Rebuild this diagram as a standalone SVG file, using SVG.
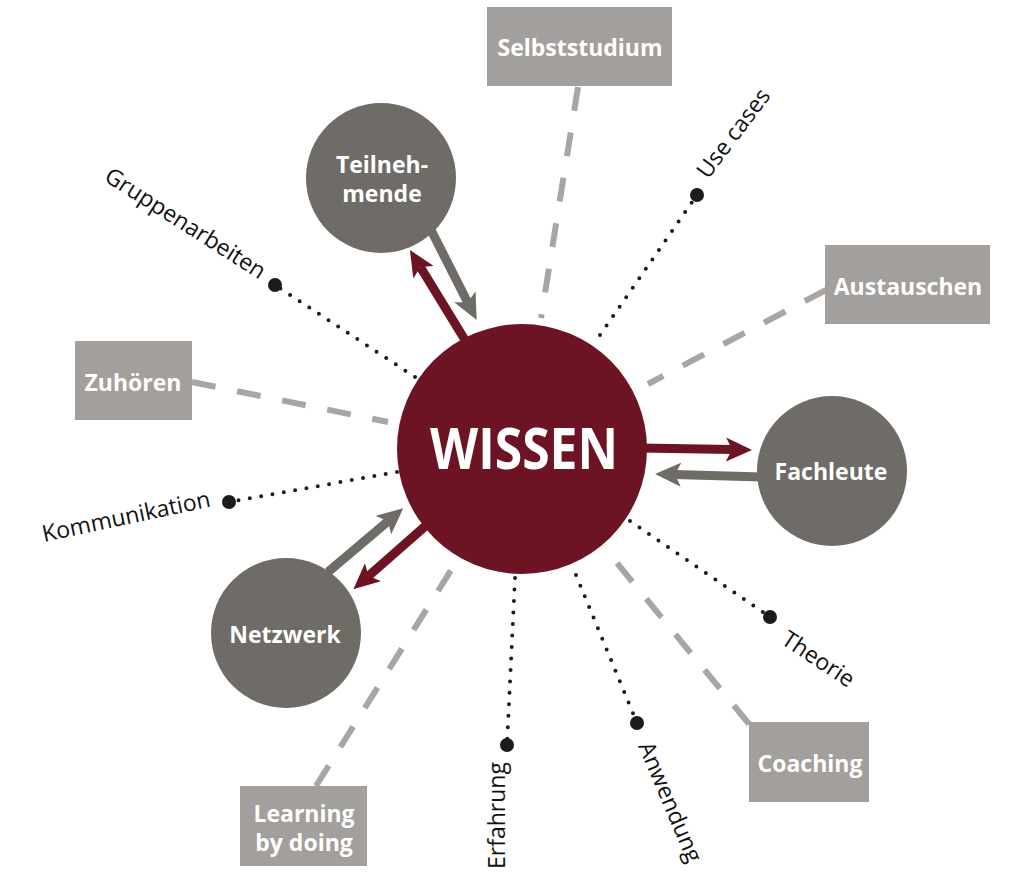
<svg xmlns="http://www.w3.org/2000/svg" width="1024" height="881" viewBox="0 0 1024 881">
<defs>
<style>
.dash{fill:none;stroke:#a9a5a2;stroke-width:6;stroke-dasharray:24 22}
.dot{fill:none;stroke:#1c1c20;stroke-width:4;stroke-dasharray:0 11.5;stroke-linecap:round}
.end{fill:#1c1c20}
.lbl{font-family:"Open Sans","Noto Sans",sans-serif;font-size:23px;fill:#111}
.box{fill:#a39f9c}
.btxt{font-family:"Open Sans","Noto Sans",sans-serif;font-size:23px;font-weight:bold;fill:#fff;text-anchor:middle}
.node{fill:#6f6c67}
.am{stroke:#6c1424;stroke-width:9;fill:none}
.ag{stroke:#6f6c67;stroke-width:9;fill:none}
</style>
<marker id="hm" viewBox="0 0 26 24" refX="6" refY="12" markerWidth="26" markerHeight="24" markerUnits="userSpaceOnUse" orient="auto"><path d="M0,0 L26,12 L0,24 L6,12 z" fill="#6c1424"/></marker>
<marker id="hg" viewBox="0 0 26 24" refX="6" refY="12" markerWidth="26" markerHeight="24" markerUnits="userSpaceOnUse" orient="auto"><path d="M0,0 L26,12 L0,24 L6,12 z" fill="#6f6c67"/></marker>
</defs>
<rect width="1024" height="881" fill="#fff"/>
<g id="connectors">
<line class="dash" x1="578" y1="87" x2="541" y2="318"/>
<line class="dash" x1="826" y1="290" x2="648" y2="384"/>
<line class="dash" x1="192" y1="382" x2="388" y2="422"/>
<line class="dash" x1="749" y1="724" x2="603" y2="546"/>
<line class="dash" x1="316" y1="786" x2="453" y2="567"/>
<line class="dot" x1="600" y1="335" x2="697" y2="195"/>
<line class="dot" x1="415" y1="377" x2="275" y2="285"/>
<line class="dot" x1="397" y1="472" x2="229" y2="502"/>
<line class="dot" x1="630" y1="521" x2="770" y2="617"/>
<line class="dot" x1="515" y1="578" x2="507" y2="745"/>
<line class="dot" x1="576" y1="575" x2="637" y2="723"/>
<circle class="end" cx="697" cy="195" r="7"/>
<circle class="end" cx="275" cy="285" r="7"/>
<circle class="end" cx="229" cy="502" r="7"/>
<circle class="end" cx="770" cy="617" r="7"/>
<circle class="end" cx="507" cy="745" r="7"/>
<circle class="end" cx="637" cy="723" r="7"/>
<line class="am" x1="465" y1="340" x2="420.4" y2="267.1" marker-end="url(#hm)"/>
<line class="ag" x1="430" y1="228" x2="467.6" y2="302.2" marker-end="url(#hg)"/>
<line class="am" x1="640" y1="448" x2="732" y2="449.6" marker-end="url(#hm)"/>
<line class="ag" x1="762" y1="477" x2="675" y2="474.5" marker-end="url(#hg)"/>
<line class="ag" x1="328" y1="572" x2="388" y2="521.2" marker-end="url(#hg)"/>
<line class="am" x1="430" y1="522" x2="368.4" y2="576.1" marker-end="url(#hm)"/>
</g>
<g id="labels">
<text class="lbl" transform="translate(708,180) rotate(-53)">Use cases</text>
<text class="lbl" transform="translate(103,180) rotate(32.5)">Gruppenarbeiten</text>
<text class="lbl" transform="translate(44,542) rotate(-12)">Kommunikation</text>
<text class="lbl" transform="translate(780,643) rotate(33.5)">Theorie</text>
<text class="lbl" transform="translate(505,869) rotate(-90)">Erfahrung</text>
<text class="lbl" transform="translate(638,746) rotate(67)">Anwendung</text>
</g>
<g id="wissen">
<circle cx="522" cy="449" r="125" fill="#6c1424"/>
<text x="524" y="469" font-family="Open Sans, Noto Sans, sans-serif" font-size="57" font-weight="bold" fill="#fff" text-anchor="middle" textLength="188" lengthAdjust="spacingAndGlyphs">WISSEN</text>
</g>
<g id="teilnehmende">
<circle class="node" cx="381" cy="178" r="75"/>
<text class="btxt" x="382" y="173">Teilneh-</text>
<text class="btxt" x="382" y="202">mende</text>
</g>
<g id="fachleute">
<circle class="node" cx="832" cy="471" r="75"/>
<text class="btxt" x="831" y="480">Fachleute</text>
</g>
<g id="netzwerk">
<circle class="node" cx="286" cy="633" r="75"/>
<text class="btxt" x="285" y="643">Netzwerk</text>
</g>
<g id="selbststudium">
<rect class="box" x="487" y="7" width="185" height="79"/>
<text class="btxt" x="580" y="56">Selbststudium</text>
</g>
<g id="austauschen">
<rect class="box" x="825" y="245" width="165" height="79"/>
<text class="btxt" x="908" y="295">Austauschen</text>
</g>
<g id="zuhoeren">
<rect class="box" x="75" y="341" width="117" height="79"/>
<text class="btxt" x="133" y="391">Zuhören</text>
</g>
<g id="coaching">
<rect class="box" x="749" y="722" width="120" height="80"/>
<text class="btxt" x="810" y="772">Coaching</text>
</g>
<g id="learning">
<rect class="box" x="240" y="786" width="127" height="80"/>
<text class="btxt" x="304" y="822">Learning</text>
<text class="btxt" x="304" y="851">by doing</text>
</g>
</svg>
